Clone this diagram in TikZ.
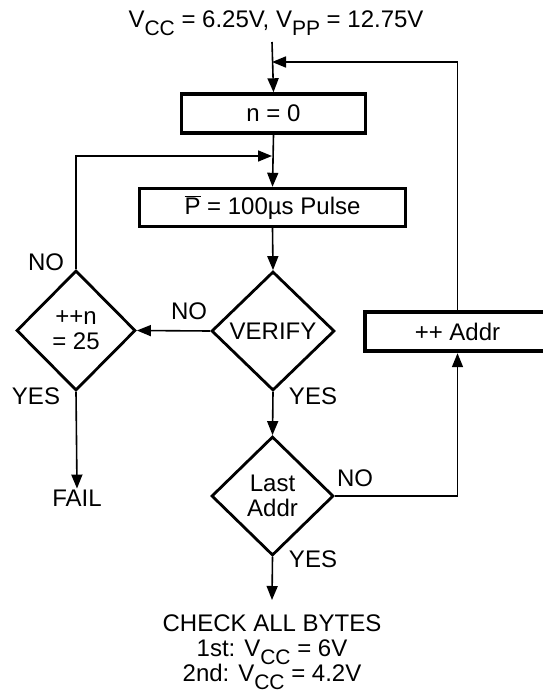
\documentclass[tikz,border=0pt]{standalone}
\usepackage{fontspec}
\setmainfont{Liberation Sans}
\usetikzlibrary{shapes.geometric, arrows.meta, positioning}

\newcommand{\sbs}[1]{\raisebox{-0.3em}[0pt][0pt]{\fontsize{21}{21}\selectfont #1}}

\begin{document}
\begin{tikzpicture}[x=1pt, y=-1pt,
	every node/.style={font=\fontsize{24}{25}\selectfont, inner sep=1pt},
	block/.style={draw, rectangle, line width=3.4pt, inner sep=0pt},
	decision/.style={draw, diamond, line width=2.8pt, inner sep=0pt, align=center},
	flow/.style={line width=1.6pt, -{Triangle[length=14pt, width=11pt]}}]
	\useasboundingbox (0,0) rectangle (542,693);
	
	\node (title) at (276,21) {V\sbs{CC} = 6.25V, V\sbs{PP} = 12.75V};
	\coordinate (in1) at (272,42);
	\coordinate (j1) at (272,62);
	\coordinate (j2) at (272,156);
	
	\node[block, minimum width=184pt, minimum height=39pt] (n0) at (273.5,113.5) {n = 0};
	\node[block, minimum width=266pt, minimum height=38pt] (pulse) at (272.5,207.5) {$\overline{\mbox{P}}$ = 100µs Pulse};
	\node[decision, minimum width=123pt, minimum height=119pt] (verify) at (273,331) {VERIFY};
	\node[decision, minimum width=119pt, minimum height=120pt] (incn) at (76,330.5) {++n\\= 25};
	\node[decision, minimum width=122pt, minimum height=119pt] (last) at (272.5,496) {Last\\Addr};
	\node[block, line width=4.4pt, minimum width=185pt, minimum height=39pt] (addr) at (457.5,331.5) {++ Addr};
	
	\node (fail) at (77,498) {FAIL};
	\node[align=center, anchor=north, inner ysep=15pt] (check) at (272,600) {CHECK ALL BYTES\\1st: V\sbs{CC} = 6V\\2nd: V\sbs{CC} = 4.2V};
	
	\node (no1) at (46,262) {NO};
	\node (no2) at (189,311) {NO};
	\node (yes1) at (36,396) {YES};
	\node (yes2) at (313,396) {YES};
	\node (no3) at (355,478) {NO};
	\node (yes3) at (313,559) {YES};
	
	\draw[flow] (in1) -- (n0.north);
	\draw[flow] (n0.south) -- (pulse.north);
	\draw[flow] (pulse.south) -- (verify.north);
	\draw[flow] (verify.west) -- (incn.east);
	\draw[flow] (verify.south) -- (last.north);
	\draw[flow] (incn.south) -- (fail.north);
	\draw[flow] (last.south) -- (check.north);
	\draw[flow] (last.east) -| (addr.south);
	\draw[flow] (addr.north) |- (j1);
	\draw[flow] (incn.north) |- (j2);
\end{tikzpicture}
\end{document}
